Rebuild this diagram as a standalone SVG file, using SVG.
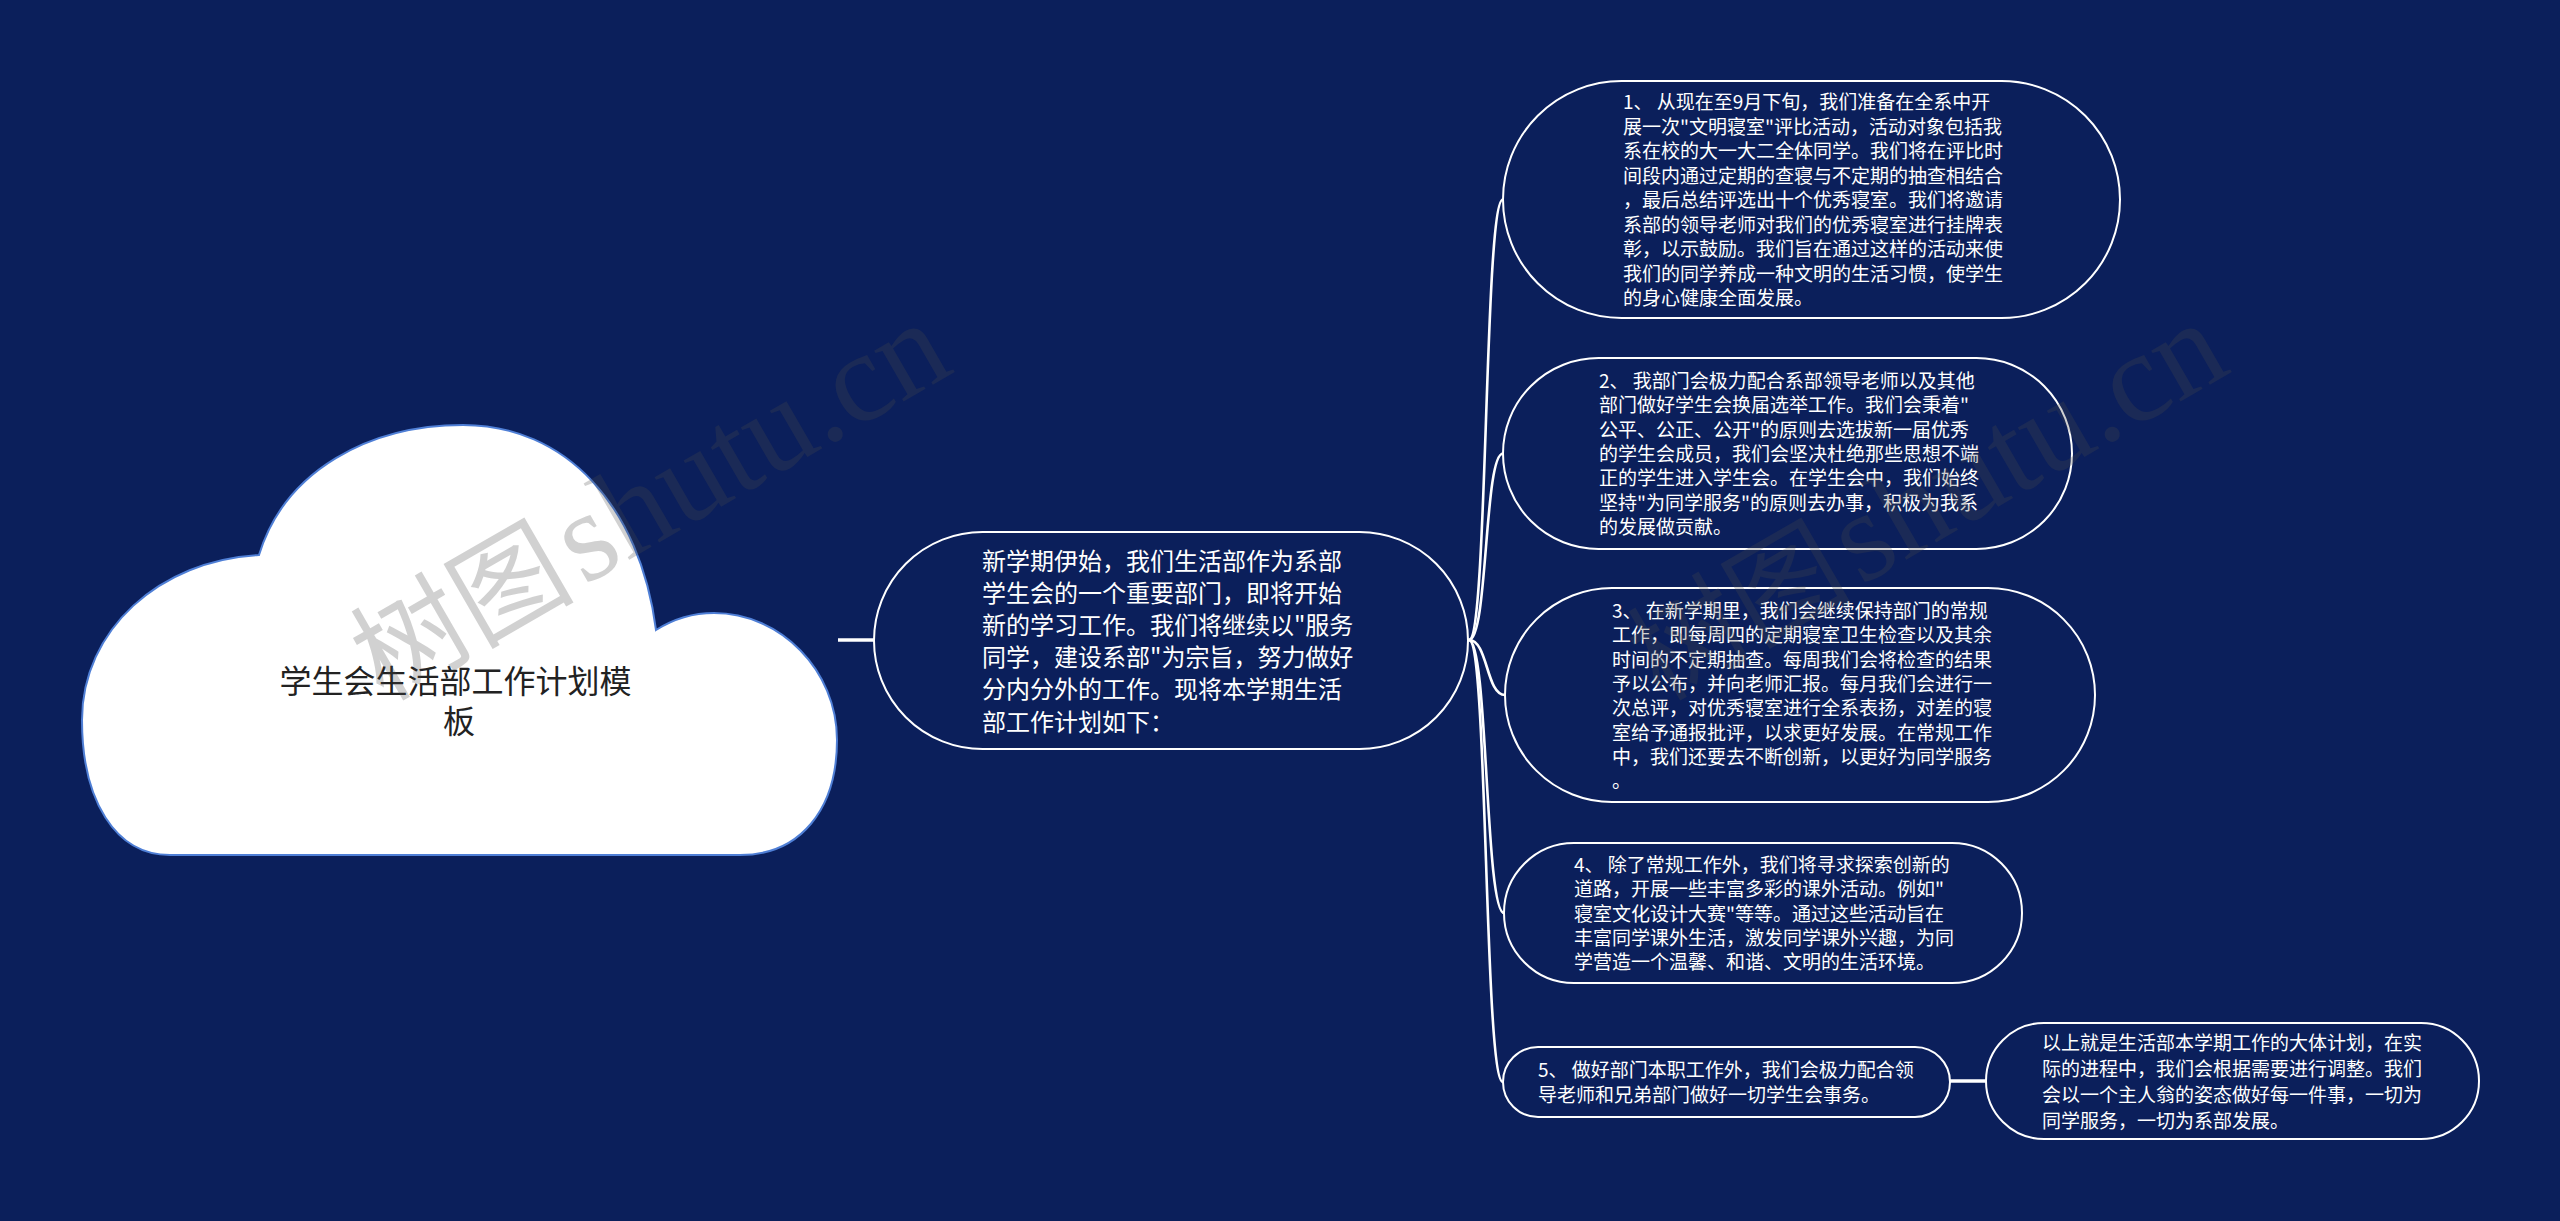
<svg xmlns="http://www.w3.org/2000/svg" width="2560" height="1221" viewBox="0 0 2560 1221">
<defs>
<style>
.bg{fill:#0b1f5b}
.pill{fill:#0b1f5b;stroke:#ffffff;stroke-width:2}
.t{font-family:"Noto Sans CJK SC","Noto Sans",sans-serif;fill:#ffffff}
.t19{font-size:19px}
.t24{font-size:24px}
.conn{fill:none;stroke:#ffffff;stroke-width:2.6;stroke-linecap:round}
.wm{font-family:"Liberation Serif","Noto Sans CJK SC",serif;font-size:128px;fill:#4b4b4b;opacity:0.25}
</style>
</defs>
<rect class="bg" x="0" y="0" width="2560" height="1221"/>

<g id="connectors">
<line x1="838" y1="640" x2="874" y2="640" stroke="#ffffff" stroke-width="3.5"/>
<path class="conn" d="M1469 640 C1488 640 1484 199.5 1503 199.5"/>
<path class="conn" d="M1469 640 C1488 640 1484 453.5 1503 453.5"/>
<path class="conn" d="M1469 640 C1488 640 1486 695 1505 695"/>
<path class="conn" d="M1469 640 C1488 640 1485 913 1504 913"/>
<path class="conn" d="M1469 640 C1488 640 1484 1082 1503 1082"/>
<line x1="1950" y1="1081" x2="1986" y2="1081" stroke="#ffffff" stroke-width="3.5"/>
</g>

<g id="root">
<path d="M259 555 C285 470 370 425 463 425 C565 425 640 505 656 630 C675 618 695 613 714 613 C780 613 837 670 837 740 C837 810 800 855 740 855 L170 855 C115 855 82 800 82 720 C82 630 160 560 259 555 Z" fill="#ffffff" stroke="#4f7fd6" stroke-width="2"/>
<text font-family="Noto Sans CJK SC, sans-serif" font-size="32" fill="#222222" text-anchor="middle">
<tspan x="459" y="693">学生会生活部工作计划模</tspan>
<tspan x="459" y="733">板</tspan>
</text>
</g>

<g id="central">
<rect class="pill" x="874" y="532" width="594" height="217" rx="108.5"/>
<text class="t t24">
<tspan x="982" y="569.5">新学期伊始，我们生活部作为系部</tspan>
<tspan x="982" y="601.7">学生会的一个重要部门，即将开始</tspan>
<tspan x="982" y="633.9">新的学习工作。我们将继续以"服务</tspan>
<tspan x="982" y="666.1">同学，建设系部"为宗旨，努力做好</tspan>
<tspan x="982" y="698.3">分内分外的工作。现将本学期生活</tspan>
<tspan x="982" y="730.5">部工作计划如下：</tspan>
</text>
</g>

<g id="node1">
<rect class="pill" x="1503" y="81" width="617" height="237" rx="118.5"/>
<text class="t t19">
<tspan x="1623" y="109">1、 从现在至9月下旬，我们准备在全系中开</tspan>
<tspan x="1623" y="133.5">展一次"文明寝室"评比活动，活动对象包括我</tspan>
<tspan x="1623" y="158">系在校的大一大二全体同学。我们将在评比时</tspan>
<tspan x="1623" y="182.5">间段内通过定期的查寝与不定期的抽查相结合</tspan>
<tspan x="1623" y="207">，最后总结评选出十个优秀寝室。我们将邀请</tspan>
<tspan x="1623" y="231.5">系部的领导老师对我们的优秀寝室进行挂牌表</tspan>
<tspan x="1623" y="256">彰，以示鼓励。我们旨在通过这样的活动来使</tspan>
<tspan x="1623" y="280.5">我们的同学养成一种文明的生活习惯，使学生</tspan>
<tspan x="1623" y="305">的身心健康全面发展。</tspan>
</text>
</g>

<g id="node2">
<rect class="pill" x="1503" y="358" width="569" height="191" rx="95.5"/>
<text class="t t19">
<tspan x="1599" y="388">2、 我部门会极力配合系部领导老师以及其他</tspan>
<tspan x="1599" y="412.3">部门做好学生会换届选举工作。我们会秉着"</tspan>
<tspan x="1599" y="436.6">公平、公正、公开"的原则去选拔新一届优秀</tspan>
<tspan x="1599" y="460.9">的学生会成员，我们会坚决杜绝那些思想不端</tspan>
<tspan x="1599" y="485.2">正的学生进入学生会。在学生会中，我们始终</tspan>
<tspan x="1599" y="509.5">坚持"为同学服务"的原则去办事，积极为我系</tspan>
<tspan x="1599" y="533.8">的发展做贡献。</tspan>
</text>
</g>

<g id="node3">
<rect class="pill" x="1505" y="588" width="590" height="214" rx="107"/>
<text class="t t19">
<tspan x="1612" y="618">3、 在新学期里，我们会继续保持部门的常规</tspan>
<tspan x="1612" y="642.3">工作，即每周四的定期寝室卫生检查以及其余</tspan>
<tspan x="1612" y="666.6">时间的不定期抽查。每周我们会将检查的结果</tspan>
<tspan x="1612" y="690.9">予以公布，并向老师汇报。每月我们会进行一</tspan>
<tspan x="1612" y="715.2">次总评，对优秀寝室进行全系表扬，对差的寝</tspan>
<tspan x="1612" y="739.5">室给予通报批评，以求更好发展。在常规工作</tspan>
<tspan x="1612" y="763.8">中，我们还要去不断创新，以更好为同学服务</tspan>
<tspan x="1612" y="788.1">。</tspan>
</text>
</g>

<g id="node4">
<rect class="pill" x="1504" y="843" width="518" height="140" rx="70"/>
<text class="t t19">
<tspan x="1574" y="872">4、 除了常规工作外，我们将寻求探索创新的</tspan>
<tspan x="1574" y="896.3">道路，开展一些丰富多彩的课外活动。例如"</tspan>
<tspan x="1574" y="920.6">寝室文化设计大赛"等等。通过这些活动旨在</tspan>
<tspan x="1574" y="944.9">丰富同学课外生活，激发同学课外兴趣，为同</tspan>
<tspan x="1574" y="969.2">学营造一个温馨、和谐、文明的生活环境。</tspan>
</text>
</g>

<g id="node5">
<rect class="pill" x="1503" y="1047" width="447" height="70" rx="35"/>
<text class="t t19">
<tspan x="1538" y="1077">5、 做好部门本职工作外，我们会极力配合领</tspan>
<tspan x="1538" y="1102">导老师和兄弟部门做好一切学生会事务。</tspan>
</text>
</g>

<g id="node6">
<rect class="pill" x="1986" y="1023" width="493" height="116" rx="58"/>
<text class="t t19">
<tspan x="2042" y="1050">以上就是生活部本学期工作的大体计划，在实</tspan>
<tspan x="2042" y="1076">际的进程中，我们会根据需要进行调整。我们</tspan>
<tspan x="2042" y="1102">会以一个主人翁的姿态做好每一件事，一切为</tspan>
<tspan x="2042" y="1128">同学服务，一切为系部发展。</tspan>
</text>
</g>

<g id="watermarks">
<text class="wm" transform="translate(383 702) rotate(-30)"><tspan x="0" y="0" font-size="112">树图</tspan><tspan x="232" y="0">shutu.cn</tspan></text>
<text class="wm" transform="translate(1660 702) rotate(-30)"><tspan x="0" y="0" font-size="112">树图</tspan><tspan x="232" y="0">shutu.cn</tspan></text>
</g>
</svg>
